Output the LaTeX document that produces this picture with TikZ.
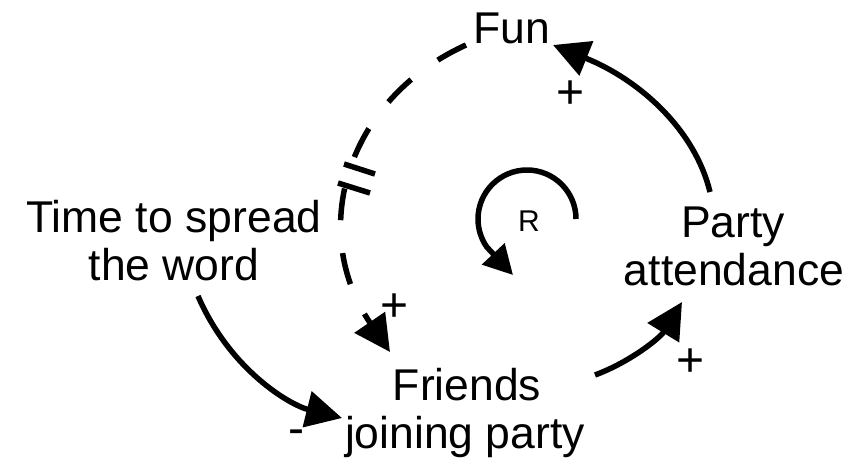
\documentclass[tikz,border=0pt]{standalone}
\usepackage{fontspec}
\setmainfont{Liberation Sans}
\usetikzlibrary{arrows.meta}
\begin{document}
\begin{tikzpicture}[x=1pt,y=-1pt,
  lbl/.style={anchor=base,inner sep=0pt,font=\fontsize{44.5}{48}\selectfont},
  pol/.style={anchor=center,inner sep=0pt,font=\fontsize{48}{52}\selectfont},
  link/.style={line width=5.5pt,-{Triangle[length=36pt,width=36pt]}},
  delaylink/.style={link,dash pattern=on 32pt off 33pt},
  delaymark/.style={line width=5.5pt},
  loopline/.style={line width=5.5pt,-{Triangle[length=29pt,width=30pt]}}]
\useasboundingbox (0,0) rectangle (859,469);
% variables
\node[lbl] (fun) at (512,43) {Fun};
\node[lbl] (time1) at (174,232) {Time to spread};
\node[lbl] (time2) at (174,280) {the word};
\node[lbl] (party1) at (733,237) {Party};
\node[lbl] (party2) at (734,285) {attendance};
\node[lbl] (friends1) at (467,400) {Friends};
\node[lbl] (friends2) at (465,448) {joining party};
% connector end points
\coordinate (funout) at (466,45);
\coordinate (funin) at (553,45);
\coordinate (friendsin) at (390,352);
\coordinate (friendsin2) at (342,418);
\coordinate (friendsout) at (595,375);
\coordinate (partyin) at (682,302);
\coordinate (partyout) at (710,192);
\coordinate (timeout) at (198,296);
% links
\draw[delaylink] (funout) .. controls (345,100) and (308,232) .. (friendsin);
\draw[delaymark] (344,164) -- (375,174);
\draw[delaymark] (338,183) -- (370,193);
\draw[link] (partyout) .. controls (695,130) and (640,80) .. (funin);
\draw[link] (friendsout) .. controls (630,362) and (660,338) .. (partyin);
\draw[link] (timeout) .. controls (230,370) and (290,405) .. (friendsin2);
% polarities
\node[pol] (p1) at (571,95) {+};
\node[pol] (p2) at (395,308) {+};
\node[pol] (p3) at (691,363) {+};
\node[pol] (m1) at (296,437) {-};
% loop
\coordinate (loopstart) at (576,219);
\coordinate (looptip) at (513,275);
\draw[loopline] (loopstart) arc[start angle=0,end angle=-215,radius=49] -- (looptip);
\node[inner sep=0pt,font=\fontsize{30}{34}\selectfont] (r) at (529,221) {R};
\end{tikzpicture}
\end{document}
